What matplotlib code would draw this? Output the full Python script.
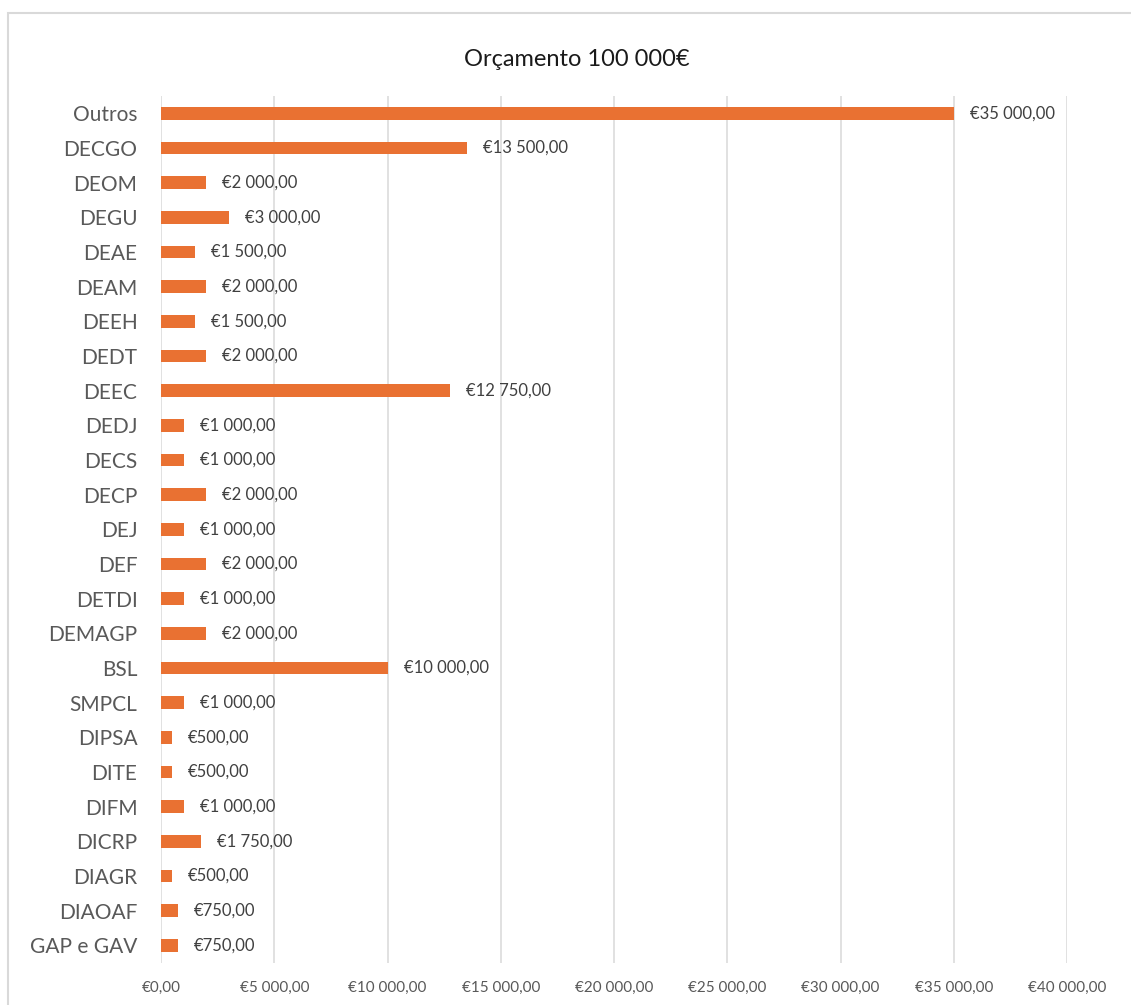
import matplotlib
matplotlib.use("Agg")
import matplotlib.pyplot as plt
from matplotlib.patches import Rectangle

categories = ["Outros", "DECGO", "DEOM", "DEGU", "DEAE", "DEAM", "DEEH", "DEDT",
              "DEEC", "DEDJ", "DECS", "DECP", "DEJ", "DEF", "DETDI", "DEMAGP",
              "BSL", "SMPCL", "DIPSA", "DITE", "DIFM", "DICRP", "DIAGR", "DIAOAF",
              "GAP e GAV"]
values = [35000, 13500, 2000, 3000, 1500, 2000, 1500, 2000,
          12750, 1000, 1000, 2000, 1000, 2000, 1000, 2000,
          10000, 1000, 500, 500, 1000, 1750, 500, 750, 750]
xticks = [0, 5000, 10000, 15000, 20000, 25000, 30000, 35000, 40000]
title = "Orçamento 100 000€"

plt.rcParams['font.family'] = ['Lato', 'DejaVu Sans']

def eur(v):
    s = f"{v:,.2f}"
    intpart, dec = s.split(".")
    intpart = intpart.replace(",", " ")
    return f"€{intpart},{dec}"

W, H = 1131, 1005
fig = plt.figure(figsize=(W/100, H/100), dpi=100)
fig.patches.append(Rectangle((8/W, -0.1), 2.0, 1.1 - 13/H, transform=fig.transFigure,
                             fill=False, edgecolor="#D9D9D9", linewidth=1.5))

ax = fig.add_axes([161/W, 1 - 962.7/H, 906/W, (962.7 - 96)/H])
ypos = list(range(len(categories)))
ax.barh(ypos, values, height=0.36, color="#E97132", zorder=3)
ax.set_ylim(len(categories) - 0.5, -0.5)
ax.set_xlim(0, 40000)
ax.set_yticks(ypos)
ax.set_yticklabels(categories, fontsize=15, color="#595959")
ax.set_xticks(xticks)
ax.set_xticklabels([eur(v) for v in xticks], fontsize=11, color="#595959")
ax.tick_params(axis='both', length=0)
ax.tick_params(axis='y', pad=17)
ax.tick_params(axis='x', pad=13)
for s in ax.spines.values():
    s.set_visible(False)
ax.grid(axis='x', color="#D9D9D9", linewidth=1.1, zorder=0)
ax.set_axisbelow(True)

for y, v in zip(ypos, values):
    ax.annotate(eur(v), (v, y), xytext=(16, 0), textcoords="offset pixels",
                va="center", ha="left", fontsize=12, color="#404040")

fig.text(577/W, 1 - 60/H, title, ha="center", va="center", fontsize=17, color="#1A1A1A")

fig.savefig("out.png", dpi=100)
